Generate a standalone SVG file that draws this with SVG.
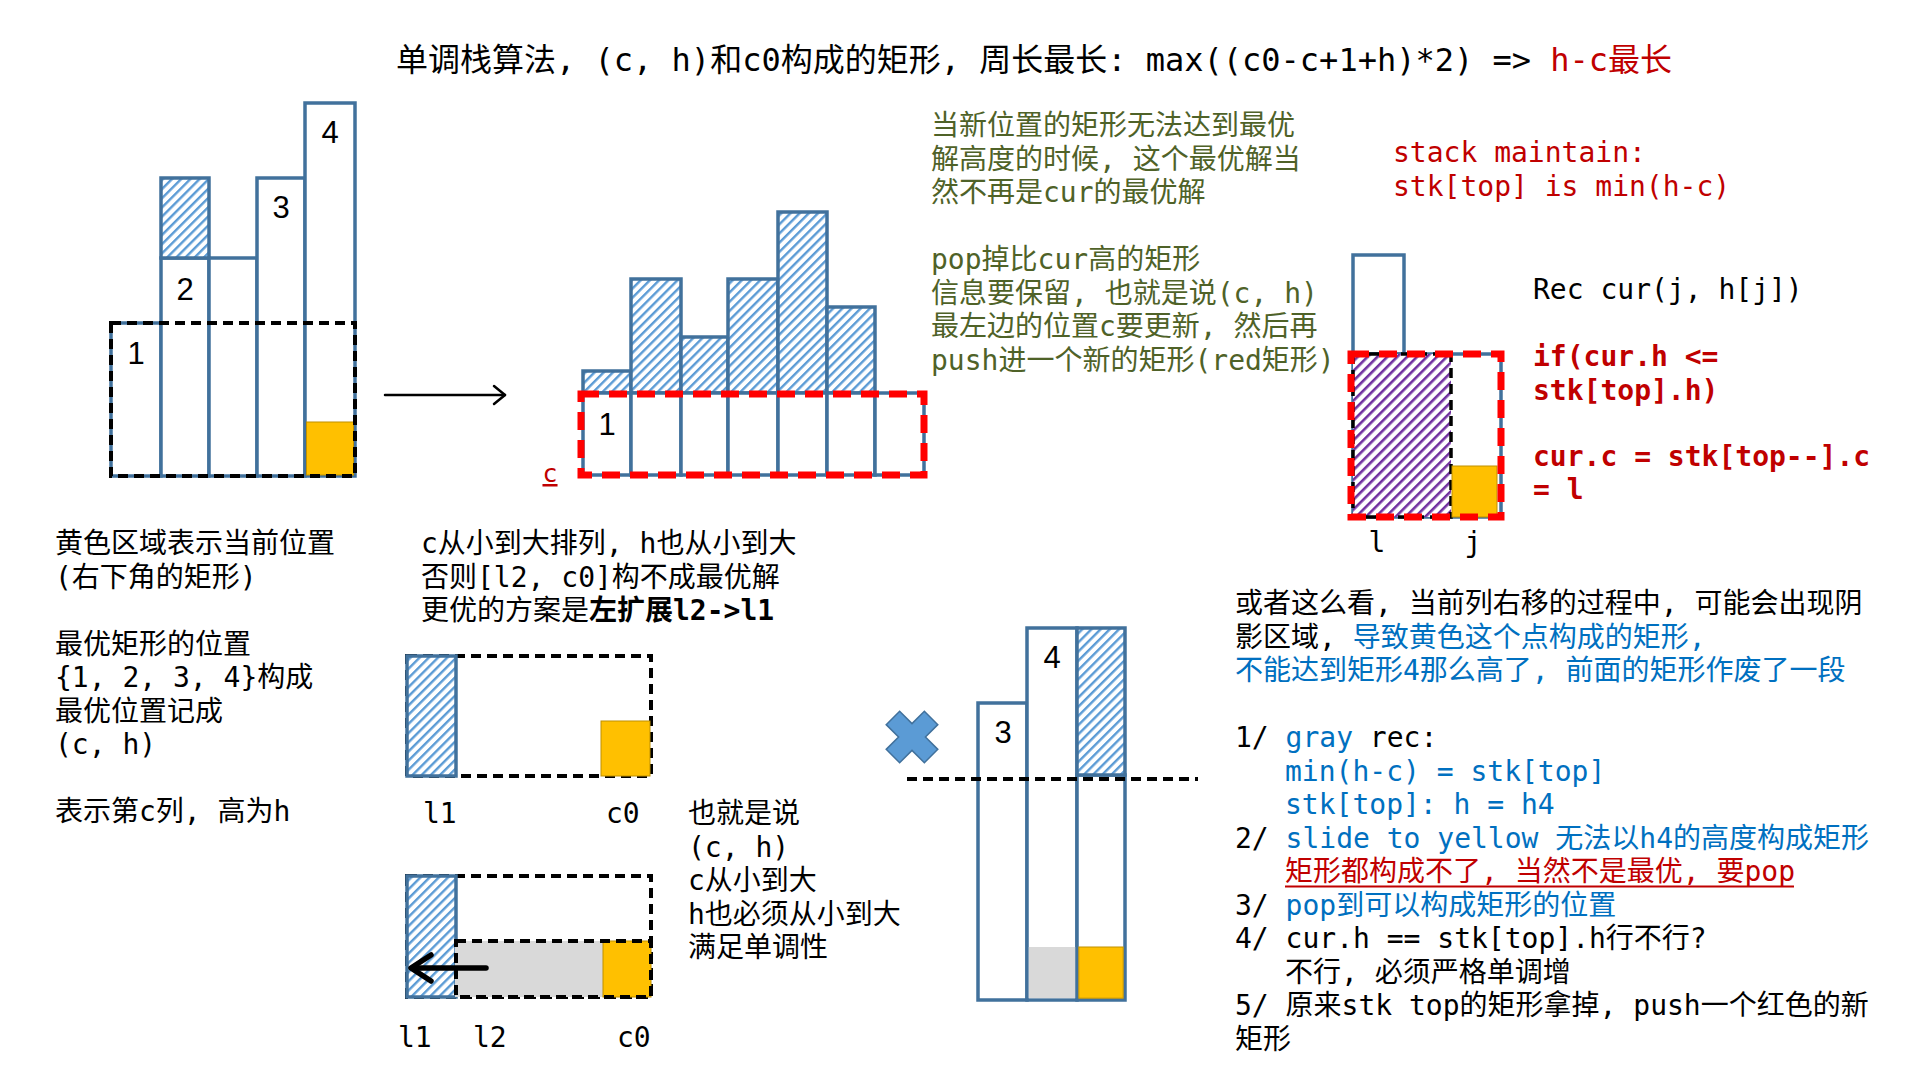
<svg xmlns="http://www.w3.org/2000/svg" width="1920" height="1080" viewBox="0 0 1920 1080">
<style>
.t{font-family:'DejaVu Sans Mono','Noto Sans CJK SC',monospace;font-size:28px;fill:#000}
.ti{font-size:32px}
.g{fill:#4F6228}
.b{fill:#0070C0}
.r{fill:#C00000}
.bd{font-weight:bold}
.num{font-family:'Liberation Sans',Arial,sans-serif;font-size:31px;fill:#000;text-anchor:middle}
.bar{fill:#fff;stroke:#41719C;stroke-width:3.5}
.hat{fill:url(#hatch);stroke:#41719C;stroke-width:3.5}
.dash{fill:none;stroke:#000;stroke-width:4;stroke-dasharray:10 6}
.rdash{fill:none;stroke:#FF0000;stroke-width:7;stroke-dasharray:18 10}
.yel{fill:#FFC000;stroke:#BF9000;stroke-width:1}
.gry{fill:#D9D9D9}
.conn{fill:none;stroke:#000;stroke-linecap:round;stroke-linejoin:round}
</style>
<defs>
<pattern id="hatch" patternUnits="userSpaceOnUse" width="6.5" height="6.5" patternTransform="rotate(45)">
<rect width="6.5" height="6.5" fill="#fff"/>
<rect width="2.4" height="6.5" fill="#5B9BD5"/>
</pattern>
<pattern id="phatch" patternUnits="userSpaceOnUse" width="7" height="7" patternTransform="rotate(45)">
<rect width="7" height="7" fill="#fff"/>
<rect width="2.6" height="7" fill="#7030A0"/>
</pattern>
</defs>
<rect width="1920" height="1080" fill="#fff"/>

<g id="title">
<text class="t ti" x="396" y="71">单调栈算法, (c, h)和c0构成的矩形, 周长最长: max((c0-c+1+h)*2) => <tspan class="r">h-c最长</tspan></text>
</g>

<g id="chart-left">
<rect class="bar" x="111" y="323" width="50" height="153"/>
<rect class="bar" x="161" y="258" width="48" height="218"/>
<rect class="hat" x="161" y="178" width="48" height="80"/>
<rect class="bar" x="209" y="258" width="48" height="218"/>
<rect class="bar" x="257" y="178" width="48" height="298"/>
<rect class="bar" x="305" y="103" width="50" height="373"/>
<rect class="yel" x="306.5" y="422" width="47" height="53"/>
<rect class="dash" x="111" y="323" width="244" height="153"/>
<text class="num" x="136" y="364">1</text>
<text class="num" x="185" y="300">2</text>
<text class="num" x="281" y="218">3</text>
<text class="num" x="330" y="143">4</text>
</g>

<g id="chart-middle">
<rect class="hat" x="583" y="371" width="48" height="22"/>
<rect class="hat" x="631" y="279" width="50" height="114"/>
<rect class="hat" x="681" y="337" width="47" height="56"/>
<rect class="hat" x="728" y="279" width="50" height="114"/>
<rect class="hat" x="778" y="212" width="49" height="181"/>
<rect class="hat" x="827" y="307" width="48" height="86"/>
<rect class="bar" x="583" y="393" width="48" height="82"/>
<rect class="bar" x="631" y="393" width="50" height="82"/>
<rect class="bar" x="681" y="393" width="47" height="82"/>
<rect class="bar" x="728" y="393" width="50" height="82"/>
<rect class="bar" x="778" y="393" width="49" height="82"/>
<rect class="bar" x="827" y="393" width="48" height="82"/>
<rect class="bar" x="875" y="393" width="49" height="82"/>
<rect class="rdash" x="581" y="394" width="343" height="81"/>
<text class="num" x="607" y="435">1</text>
<text class="t r" x="550" y="482" style="font-size:25px;text-anchor:middle;text-decoration:underline">c</text>
</g>

<g id="note-green">
<text class="t g">
<tspan x="931" y="135">当新位置的矩形无法达到最优</tspan>
<tspan x="931" y="168.5">解高度的时候, 这个最优解当</tspan>
<tspan x="931" y="202">然不再是cur的最优解</tspan>
<tspan x="931" y="269">pop掉比cur高的矩形</tspan>
<tspan x="931" y="302.5">信息要保留, 也就是说(c, h)</tspan>
<tspan x="931" y="336">最左边的位置c要更新, 然后再</tspan>
<tspan x="931" y="369.5">push进一个新的矩形(red矩形)</tspan>
</text>
</g>

<g id="note-stack">
<text class="t r">
<tspan x="1393" y="162">stack maintain:</tspan>
<tspan x="1393" y="196">stk[top] is min(h-c)</tspan>
</text>
</g>

<g id="chart-right">
<rect class="bar" x="1353" y="255" width="51" height="99"/>
<rect class="bar" x="1353" y="354" width="148" height="163"/>
<rect x="1353" y="354" width="98" height="163" fill="url(#phatch)" stroke="#000" stroke-width="3.5" stroke-dasharray="10 6"/>
<rect class="yel" x="1452" y="466" width="45" height="51"/>
<rect class="rdash" x="1351" y="354" width="150" height="163"/>
<text class="t" x="1377" y="552" text-anchor="middle">l</text>
<text class="t" x="1473" y="552" text-anchor="middle">j</text>
</g>

<g id="note-code">
<text class="t" x="1533" y="299">Rec cur(j, h[j])</text>
<text class="t r bd">
<tspan x="1533" y="366">if(cur.h &lt;=</tspan>
<tspan x="1533" y="400">stk[top].h)</tspan>
<tspan x="1533" y="466">cur.c = stk[top--].c</tspan>
<tspan x="1533" y="499">= l</tspan>
</text>
</g>

<g id="note-left">
<text class="t">
<tspan x="55" y="553">黄色区域表示当前位置</tspan>
<tspan x="55" y="586.5">(右下角的矩形)</tspan>
<tspan x="55" y="653.5">最优矩形的位置</tspan>
<tspan x="55" y="687">{1, 2, 3, 4}构成</tspan>
<tspan x="55" y="720.5">最优位置记成</tspan>
<tspan x="55" y="754">(c, h)</tspan>
<tspan x="55" y="821">表示第c列, 高为h</tspan>
</text>
</g>

<g id="note-middle">
<text class="t">
<tspan x="421" y="553">c从小到大排列, h也从小到大</tspan>
<tspan x="421" y="586.5">否则[l2, c0]构不成最优解</tspan>
<tspan x="421" y="620">更优的方案是<tspan class="bd">左扩展l2-&gt;l1</tspan></tspan>
</text>
</g>

<g id="box-1">
<rect class="dash" x="407" y="656" width="244" height="120"/>
<rect class="yel" x="601" y="721" width="49" height="55"/>
<rect class="hat" x="407" y="656" width="49" height="120"/>
<text class="t" x="423" y="823">l1</text>
<text class="t" x="606" y="823">c0</text>
</g>

<g id="box-2">
<rect class="dash" x="407" y="876" width="244" height="121"/>
<rect class="hat" x="407" y="876" width="49" height="121"/>
<rect class="gry" x="455" y="941" width="148" height="56"/>
<rect class="yel" x="603" y="941" width="48" height="56"/>
<rect class="dash" x="456" y="941" width="195" height="56"/>
<text class="t" x="398" y="1047">l1</text>
<text class="t" x="473" y="1047">l2</text>
<text class="t" x="617" y="1047">c0</text>
</g>

<g id="note-monotone">
<text class="t">
<tspan x="688" y="823">也就是说</tspan>
<tspan x="688" y="856.5">(c, h)</tspan>
<tspan x="688" y="890">c从小到大</tspan>
<tspan x="688" y="923.5">h也必须从小到大</tspan>
<tspan x="688" y="957">满足单调性</tspan>
</text>
</g>

<g id="cross-mark">
<polygon transform="translate(912,737) rotate(45)" points="9.5,-27 9.5,-9.5 27,-9.5 27,9.5 9.5,9.5 9.5,27 -9.5,27 -9.5,9.5 -27,9.5 -27,-9.5 -9.5,-9.5 -9.5,-27" fill="#5B9BD5" stroke="#41719C" stroke-width="1.5"/>
</g>

<g id="chart-bottom">
<rect class="bar" x="978" y="703" width="49" height="297"/>
<rect class="bar" x="1027" y="628" width="50" height="372"/>
<rect class="bar" x="1077" y="775" width="48" height="225"/>
<rect class="hat" x="1077" y="628" width="48" height="147"/>
<rect class="gry" x="1028.8" y="947" width="46.4" height="51.2"/>
<rect class="yel" x="1078.8" y="947" width="44.4" height="51.2"/>
<line x1="907" y1="779" x2="1198" y2="779" stroke="#000" stroke-width="4" stroke-dasharray="10 6"/>
<text class="num" x="1003" y="743">3</text>
<text class="num" x="1052" y="668">4</text>
</g>

<g id="note-right">
<text class="t">
<tspan x="1235" y="613">或者这么看, 当前列右移的过程中, 可能会出现阴</tspan>
<tspan x="1235" y="646.5">影区域, <tspan class="b">导致黄色这个点构成的矩形,</tspan></tspan>
<tspan x="1235" y="680" class="b">不能达到矩形4那么高了, 前面的矩形作废了一段</tspan>
<tspan x="1235" y="747">1/ <tspan class="b">gray</tspan> rec:</tspan>
<tspan x="1285" y="780.5" class="b">min(h-c) = stk[top]</tspan>
<tspan x="1285" y="814" class="b">stk[top]: h = h4</tspan>
<tspan x="1235" y="847.5">2/ <tspan class="b">slide to yellow 无法以h4的高度构成矩形</tspan></tspan>
<tspan x="1285" y="881" class="r">矩形都构成不了, 当然不是最优, 要pop</tspan>
<tspan x="1235" y="914.5">3/ <tspan class="b">pop到可以构成矩形的位置</tspan></tspan>
<tspan x="1235" y="948">4/ cur.h == stk[top].h行不行?</tspan>
<tspan x="1285" y="981.5">不行, 必须严格单调增</tspan>
<tspan x="1235" y="1015">5/ 原来stk top的矩形拿掉, push一个红色的新</tspan>
<tspan x="1235" y="1048.5">矩形</tspan>
</text>
<line x1="1285" y1="886.5" x2="1794" y2="886.5" stroke="#C00000" stroke-width="2"/>
</g>

<g id="connectors">
<line class="conn" x1="385" y1="395" x2="505" y2="395" stroke-width="2.5"/>
<polyline class="conn" points="494,386 505,395 494,404" stroke-width="2.5"/>
<line class="conn" x1="486" y1="968" x2="413" y2="968" stroke-width="5.5"/>
<polyline class="conn" points="431,955 411,968 431,981" stroke-width="5.5"/>
</g>
</svg>
